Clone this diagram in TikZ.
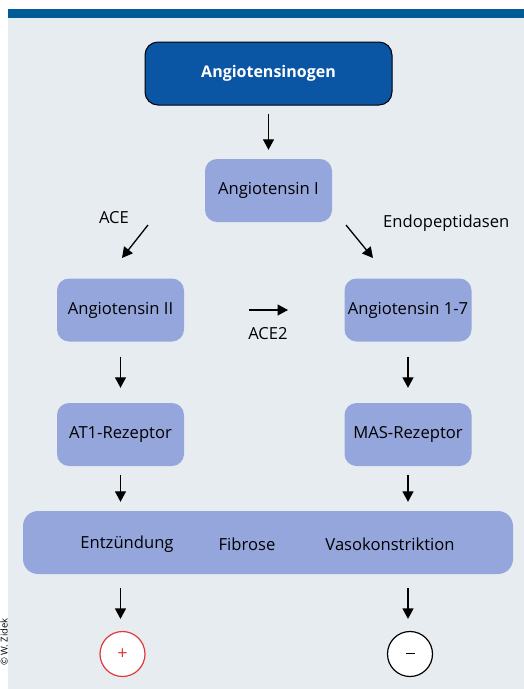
\documentclass[tikz,border=0pt]{standalone}
\usepackage{fontspec}
\setmainfont{Open Sans}
\usetikzlibrary{arrows.meta}
\definecolor{bg}{HTML}{E7ECF1}
\definecolor{bar}{HTML}{005C97}
\definecolor{dark}{HTML}{0B56A4}
\definecolor{peri}{HTML}{94A6DB}
\definecolor{redc}{HTML}{E0393B}
\begin{document}
\begin{tikzpicture}[x=1pt,y=-1pt,
 box/.style={fill=peri, rounded corners=12pt, minimum width=127pt, minimum height=63pt, font=\fontsize{16.6}{19}\selectfont, text=black, inner sep=0pt, text depth=0pt, text height=8.5pt},
 lbl/.style={font=\fontsize{16.6}{19}\selectfont, inner sep=0pt},
 arr/.style={-{Triangle[length=10.5pt,width=11pt]}, line width=1.3pt},
 circ/.style={circle, fill=white, minimum size=45pt, inner sep=0pt, line width=1.2pt, font=\fontsize{18}{19}\selectfont}
 ]
\useasboundingbox (0,0) rectangle (524,689);
\fill[bg] (8,18) rectangle (524,689);
\fill[bar] (8,9) rectangle (524,18);

\node[draw=black, line width=1pt, fill=dark, rounded corners=13pt, minimum width=247pt, minimum height=63pt, inner sep=0pt, text=white, font=\fontsize{16}{19}\selectfont\bfseries] (ag) at (268.5,73.5) {Angiotensinogen};
\node[box] (a1) at (268.5,190.5) {Angiotensin I};
\node[box] (a2) at (120.5,310) {Angiotensin II};
\node[box] (a17) at (408,310) {Angiotensin 1-7};
\node[box] (at1) at (120.5,434.5) {AT1-Rezeptor};
\node[box] (mas) at (408,434.5) {MAS-Rezeptor};
\node[fill=peri, rounded corners=15pt, minimum width=490pt, minimum height=63pt, inner sep=0pt] (eff) at (268,542.5) {};
\node[lbl] (ent) at (127,544) {Entzündung};
\node[lbl] (fib) at (247,544) {Fibrose};
\node[lbl] (vaso) at (390,544) {Vasokonstriktion};

\node[lbl] (ace) at (114,218) {ACE};
\node[lbl, anchor=west] (endo) at (383,223) {Endopeptidasen};
\node[lbl] (ace2) at (268,334) {ACE2};

\node[circ, draw=redc, text=redc] (plus) at (122.5,654) {+};
\node[circ, draw=black] (minus) at (410,654) {\raisebox{0.1ex}{\rule{9pt}{1pt}}};

\node[rotate=90, anchor=base east, inner sep=0pt, font=\fontsize{9.5}{11}\selectfont] (copy) at (7.6,618) {© W. Zidek};

\coordinate (aceS) at (148,225);
\coordinate (aceE) at (122,258);
\coordinate (endS) at (346,225);
\coordinate (endE) at (373,258);
\coordinate (c2S) at (249,310);
\coordinate (c2E) at (288,310);

\draw[arr, shorten <=8pt, shorten >=9pt] (ag) -- (a1);
\draw[arr] (aceS) -- (aceE);
\draw[arr] (endS) -- (endE);
\draw[arr] (c2S) -- (c2E);
\draw[arr, shorten <=15pt, shorten >=15pt] (a2) -- (at1);
\draw[arr, shorten <=15pt, shorten >=15pt] (a17) -- (mas);
\draw[arr, shorten <=9pt, shorten >=9pt] (at1.south) -- (at1.south |- eff.north);
\draw[arr, shorten <=9pt, shorten >=9pt] (mas.south) -- (mas.south |- eff.north);
\draw[arr, shorten <=14pt, shorten >=12pt] (at1.south |- eff.south) -- (plus.north -| at1.south);
\draw[arr, shorten <=14pt, shorten >=12pt] (mas.south |- eff.south) -- (minus.north -| mas.south);
\end{tikzpicture}
\end{document}
